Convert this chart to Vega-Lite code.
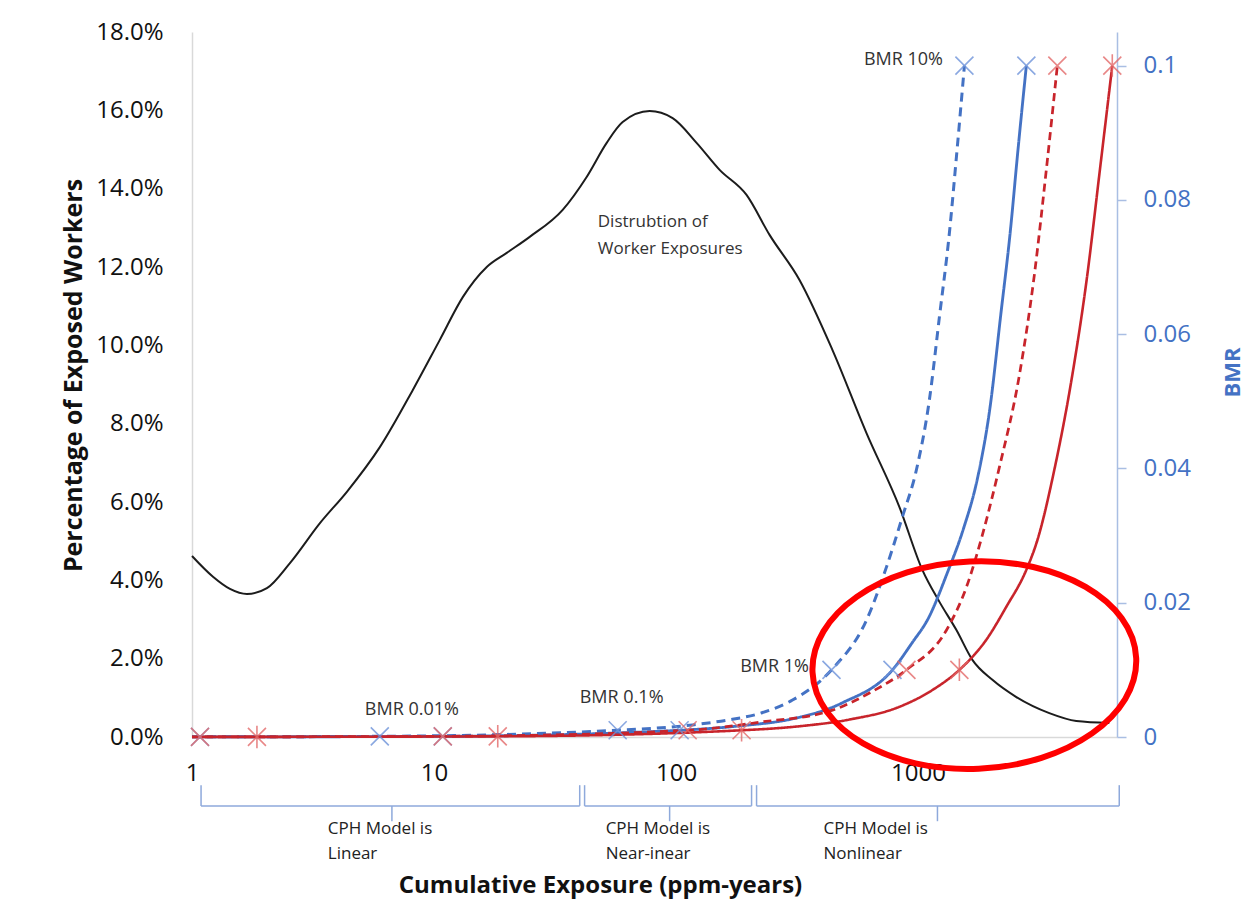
{
  "$schema": "https://vega.github.io/schema/vega-lite/v6.json",
  "width": 925,
  "height": 705,
  "autosize": {"type": "none"},
  "padding": {"left": 192, "top": 32, "right": 133, "bottom": 170},
  "background": "white",
  "config": {"view": {"stroke": null}, "font": "Open Sans", "axis": {"grid": false}},
  "datasets": {
    "distribution": [
      {"exposure": 1.0, "share": 0.0462},
      {"exposure": 1.221, "share": 0.0409},
      {"exposure": 1.435, "share": 0.0378},
      {"exposure": 1.687, "share": 0.0365},
      {"exposure": 2.04, "share": 0.038},
      {"exposure": 2.539, "share": 0.0444},
      {"exposure": 3.378, "share": 0.0546},
      {"exposure": 4.365, "share": 0.0626},
      {"exposure": 5.973, "share": 0.074},
      {"exposure": 8.175, "share": 0.0886},
      {"exposure": 10.57, "share": 0.1014},
      {"exposure": 13.15, "share": 0.1123},
      {"exposure": 16.52, "share": 0.12},
      {"exposure": 19.98, "share": 0.1236},
      {"exposure": 24.86, "share": 0.1277},
      {"exposure": 34.02, "share": 0.1346},
      {"exposure": 42.73, "share": 0.143},
      {"exposure": 51.7, "share": 0.1517},
      {"exposure": 60.19, "share": 0.157},
      {"exposure": 77.82, "share": 0.1598},
      {"exposure": 96.83, "share": 0.158},
      {"exposure": 121.6, "share": 0.1517},
      {"exposure": 151.4, "share": 0.1448},
      {"exposure": 195.6, "share": 0.1384},
      {"exposure": 243.5, "share": 0.1282},
      {"exposure": 323.8, "share": 0.1167},
      {"exposure": 443.2, "share": 0.0988},
      {"exposure": 612.4, "share": 0.0776},
      {"exposure": 837.9, "share": 0.0587},
      {"exposure": 1043, "share": 0.0426},
      {"exposure": 1226, "share": 0.0345},
      {"exposure": 1441, "share": 0.0273},
      {"exposure": 1677, "share": 0.0197},
      {"exposure": 2029, "share": 0.0146},
      {"exposure": 2549, "share": 0.0102},
      {"exposure": 3487, "share": 0.0061},
      {"exposure": 4508, "share": 0.0041},
      {"exposure": 6171, "share": 0.0036}
    ],
    "curves": [
      {"series": "Blue dashed", "exposure": 1, "bmr": 0.00002},
      {"series": "Blue dashed", "exposure": 5.97, "bmr": 0.0001},
      {"series": "Blue dashed", "exposure": 57.4, "bmr": 0.001},
      {"series": "Blue dashed", "exposure": 117.1, "bmr": 0.0018},
      {"series": "Blue dashed", "exposure": 161.8, "bmr": 0.0025},
      {"series": "Blue dashed", "exposure": 221.4, "bmr": 0.0035},
      {"series": "Blue dashed", "exposure": 302.9, "bmr": 0.0055},
      {"series": "Blue dashed", "exposure": 439, "bmr": 0.01},
      {"series": "Blue dashed", "exposure": 612.3, "bmr": 0.0174},
      {"series": "Blue dashed", "exposure": 740.4, "bmr": 0.0253},
      {"series": "Blue dashed", "exposure": 862, "bmr": 0.0328},
      {"series": "Blue dashed", "exposure": 984.9, "bmr": 0.0398},
      {"series": "Blue dashed", "exposure": 1114, "bmr": 0.0502},
      {"series": "Blue dashed", "exposure": 1226, "bmr": 0.0626},
      {"series": "Blue dashed", "exposure": 1348, "bmr": 0.0751},
      {"series": "Blue dashed", "exposure": 1441, "bmr": 0.0864},
      {"series": "Blue dashed", "exposure": 1555, "bmr": 0.1},
      {"series": "Blue solid", "exposure": 1, "bmr": 0.00001},
      {"series": "Blue solid", "exposure": 10.87, "bmr": 0.0001},
      {"series": "Blue solid", "exposure": 103.5, "bmr": 0.001},
      {"series": "Blue solid", "exposure": 188.4, "bmr": 0.0017},
      {"series": "Blue solid", "exposure": 302.9, "bmr": 0.0027},
      {"series": "Blue solid", "exposure": 487.5, "bmr": 0.0051},
      {"series": "Blue solid", "exposure": 784.3, "bmr": 0.01},
      {"series": "Blue solid", "exposure": 948.3, "bmr": 0.0141},
      {"series": "Blue solid", "exposure": 1100, "bmr": 0.0176},
      {"series": "Blue solid", "exposure": 1323, "bmr": 0.0245},
      {"series": "Blue solid", "exposure": 1540, "bmr": 0.031},
      {"series": "Blue solid", "exposure": 1760, "bmr": 0.0385},
      {"series": "Blue solid", "exposure": 1991, "bmr": 0.0495},
      {"series": "Blue solid", "exposure": 2191, "bmr": 0.0625},
      {"series": "Blue solid", "exposure": 2409, "bmr": 0.0755},
      {"series": "Blue solid", "exposure": 2575, "bmr": 0.0866},
      {"series": "Blue solid", "exposure": 2803, "bmr": 0.1},
      {"series": "Red dashed", "exposure": 1, "bmr": 0.00001},
      {"series": "Red dashed", "exposure": 10.87, "bmr": 0.0001},
      {"series": "Red dashed", "exposure": 111.7, "bmr": 0.001},
      {"series": "Red dashed", "exposure": 221.4, "bmr": 0.0022},
      {"series": "Red dashed", "exposure": 443.2, "bmr": 0.004},
      {"series": "Red dashed", "exposure": 648.1, "bmr": 0.0068},
      {"series": "Red dashed", "exposure": 895.6, "bmr": 0.01},
      {"series": "Red dashed", "exposure": 1310, "bmr": 0.0159},
      {"series": "Red dashed", "exposure": 1584, "bmr": 0.0223},
      {"series": "Red dashed", "exposure": 1845, "bmr": 0.0301},
      {"series": "Red dashed", "exposure": 2169, "bmr": 0.0402},
      {"series": "Red dashed", "exposure": 2623, "bmr": 0.0539},
      {"series": "Red dashed", "exposure": 3024, "bmr": 0.0688},
      {"series": "Red dashed", "exposure": 3390, "bmr": 0.0845},
      {"series": "Red dashed", "exposure": 3764, "bmr": 0.1},
      {"series": "Red solid", "exposure": 1, "bmr": 0.00001},
      {"series": "Red solid", "exposure": 18.34, "bmr": 0.0001},
      {"series": "Red solid", "exposure": 186.6, "bmr": 0.001},
      {"series": "Red solid", "exposure": 323.8, "bmr": 0.0016},
      {"series": "Red solid", "exposure": 521.1, "bmr": 0.0026},
      {"series": "Red solid", "exposure": 837.9, "bmr": 0.0045},
      {"series": "Red solid", "exposure": 1147, "bmr": 0.007},
      {"series": "Red solid", "exposure": 1482, "bmr": 0.01},
      {"series": "Red solid", "exposure": 1916, "bmr": 0.0145},
      {"series": "Red solid", "exposure": 2317, "bmr": 0.0194},
      {"series": "Red solid", "exposure": 2803, "bmr": 0.0249},
      {"series": "Red solid", "exposure": 3112, "bmr": 0.0293},
      {"series": "Red solid", "exposure": 3658, "bmr": 0.0398},
      {"series": "Red solid", "exposure": 4340, "bmr": 0.0539},
      {"series": "Red solid", "exposure": 5005, "bmr": 0.0688},
      {"series": "Red solid", "exposure": 5610, "bmr": 0.0837},
      {"series": "Red solid", "exposure": 6349, "bmr": 0.1}
    ],
    "markers": [
      {"series": "Blue dashed", "exposure": 5.97, "bmr": 0.0001},
      {"series": "Blue dashed", "exposure": 57.4, "bmr": 0.001},
      {"series": "Blue dashed", "exposure": 439, "bmr": 0.01},
      {"series": "Blue dashed", "exposure": 1555, "bmr": 0.1},
      {"series": "Blue solid", "exposure": 1.079, "bmr": 0.00001},
      {"series": "Blue solid", "exposure": 10.87, "bmr": 0.0001},
      {"series": "Blue solid", "exposure": 103.5, "bmr": 0.001},
      {"series": "Blue solid", "exposure": 784.3, "bmr": 0.01},
      {"series": "Blue solid", "exposure": 2803, "bmr": 0.1},
      {"series": "Red dashed", "exposure": 1.079, "bmr": 0.00001},
      {"series": "Red dashed", "exposure": 10.87, "bmr": 0.0001},
      {"series": "Red dashed", "exposure": 111.7, "bmr": 0.001},
      {"series": "Red dashed", "exposure": 895.6, "bmr": 0.01},
      {"series": "Red dashed", "exposure": 3764, "bmr": 0.1},
      {"series": "Red solid", "exposure": 1.855, "bmr": 0.00001},
      {"series": "Red solid", "exposure": 18.34, "bmr": 0.0001},
      {"series": "Red solid", "exposure": 186.6, "bmr": 0.001},
      {"series": "Red solid", "exposure": 1482, "bmr": 0.01},
      {"series": "Red solid", "exposure": 6349, "bmr": 0.1}
    ],
    "bmr_labels": [
      {"label": "BMR 10%", "exposure": 870.4, "bmr": 0.1008},
      {"label": "BMR 1%", "exposure": 255.4, "bmr": 0.0105},
      {"label": "BMR 0.1%", "exposure": 59.6, "bmr": 0.0058},
      {"label": "BMR 0.01%", "exposure": 8.1, "bmr": 0.004}
    ],
    "brackets": [
      {"range": "Linear", "x_start": 1.09, "x_end": 40.0, "center": 6.7, "text_x": 3.64, "text": "CPH Model is\nLinear"},
      {"range": "Near-linear", "x_start": 41.9, "x_end": 205.2, "center": 94.1, "text_x": 51.2, "text": "CPH Model is\nNear-inear"},
      {"range": "Nonlinear", "x_start": 215.2, "x_end": 6784, "center": 1203, "text_x": 406.9, "text": "CPH Model is\nNonlinear"}
    ],
    "notes": [
      {"text": "Distrubtion of\nWorker Exposures", "exposure": 47.5, "share": 0.1315}
    ],
    "highlight": [
      {"exposure": 1709, "bmr": 0.0107}
    ]
  },
  "layer": [
    {
      "layer": [
        {
          "data": {"name": "distribution"},
          "mark": {"type": "line", "interpolate": "monotone", "color": "#1c1c1c", "strokeWidth": 2},
          "encoding": {
            "x": {
              "field": "exposure", "type": "quantitative",
              "scale": {"type": "log", "domain": [1, 6640], "nice": false},
              "axis": {
                "title": "Cumulative Exposure (ppm-years)",
                "values": [1, 10, 100, 1000], "format": "d",
                "ticks": false, "tickSize": 0, "labelFlush": false,
                "domainColor": "#D9D9D9", "domainWidth": 1.5,
                "labelFontSize": 24, "labelColor": "#111111", "labelPadding": 24,
                "titleFontSize": 24, "titleFontWeight": "bold", "titleColor": "#111111",
                "titleX": 408, "titleY": 148, "titleAlign": "center", "titleBaseline": "middle"
              }
            },
            "y": {
              "field": "share", "type": "quantitative",
              "scale": {"domain": [0, 0.18], "nice": false, "zero": false},
              "axis": {
                "title": "Percentage of Exposed Workers",
                "values": [0, 0.02, 0.04, 0.06, 0.08, 0.1, 0.12, 0.14, 0.16, 0.18],
                "format": ".1%", "ticks": false, "tickSize": 0, "labelFlush": false,
                "labelPadding": 29, "domainColor": "#D9D9D9", "domainWidth": 1.5,
                "labelFontSize": 24, "labelColor": "#111111",
                "titleFontSize": 25, "titleFontWeight": "bold", "titleColor": "#111111",
                "titleAngle": -90, "titleX": -119, "titleY": 343, "titleAlign": "center", "titleBaseline": "middle"
              }
            }
          }
        },
        {
          "data": {"name": "notes"},
          "mark": {"type": "text", "align": "left", "baseline": "middle", "fontSize": 17, "color": "#333333", "lineBreak": "\n", "lineHeight": 27},
          "encoding": {
            "x": {"field": "exposure", "type": "quantitative"},
            "y": {"field": "share", "type": "quantitative"},
            "text": {"field": "text"}
          }
        },
        {
          "data": {"name": "brackets"},
          "mark": {"type": "rule", "color": "#8EA9DB", "strokeWidth": 1.5},
          "encoding": {
            "x": {"field": "x_start", "type": "quantitative"},
            "x2": {"field": "x_end"},
            "y": {"datum": -0.0176}
          }
        },
        {
          "data": {"name": "brackets"},
          "mark": {"type": "rule", "color": "#8EA9DB", "strokeWidth": 1.5},
          "encoding": {
            "x": {"field": "x_start", "type": "quantitative"},
            "y": {"datum": -0.0123},
            "y2": {"datum": -0.0176}
          }
        },
        {
          "data": {"name": "brackets"},
          "mark": {"type": "rule", "color": "#8EA9DB", "strokeWidth": 1.5},
          "encoding": {
            "x": {"field": "x_end", "type": "quantitative"},
            "y": {"datum": -0.0123},
            "y2": {"datum": -0.0176}
          }
        },
        {
          "data": {"name": "brackets"},
          "mark": {"type": "rule", "color": "#8EA9DB", "strokeWidth": 1.5},
          "encoding": {
            "x": {"field": "center", "type": "quantitative"},
            "y": {"datum": -0.0176},
            "y2": {"datum": -0.0215}
          }
        },
        {
          "data": {"name": "brackets"},
          "mark": {"type": "text", "align": "left", "baseline": "middle", "fontSize": 17, "color": "#222222", "lineBreak": "\n", "lineHeight": 25},
          "encoding": {
            "x": {"field": "text_x", "type": "quantitative"},
            "y": {"datum": -0.0236},
            "text": {"field": "text"}
          }
        }
      ]
    },
    {
      "layer": [
        {
          "data": {"name": "curves"},
          "mark": {"type": "line", "interpolate": "monotone"},
          "encoding": {
            "x": {"field": "exposure", "type": "quantitative", "scale": {"type": "log", "domain": [1, 6640], "nice": false}},
            "y": {
              "field": "bmr", "type": "quantitative",
              "scale": {"domain": [0, 0.105], "nice": false, "zero": false},
              "axis": {
                "orient": "right", "title": "BMR",
                "values": [0, 0.02, 0.04, 0.06, 0.08, 0.1], "format": "~g",
                "tickSize": 9, "tickColor": "#A9BEE3", "tickWidth": 1.5,
                "domainColor": "#A9BEE3", "domainWidth": 1.5, "labelFlush": false,
                "labelColor": "#4472C4", "labelFontSize": 24, "labelPadding": 17,
                "titleColor": "#4472C4", "titleFontSize": 22, "titleFontWeight": "bold",
                "titleAngle": -90, "titleX": 115, "titleY": 340, "titleAlign": "center", "titleBaseline": "middle"
              }
            },
            "detail": {"field": "series"},
            "color": {"field": "series", "type": "nominal", "legend": null,
              "scale": {"domain": ["Blue dashed", "Blue solid", "Red dashed", "Red solid"], "range": ["#4472C4", "#4472C4", "#C8242B", "#C8242B"]}},
            "strokeDash": {"field": "series", "type": "nominal", "legend": null,
              "scale": {"domain": ["Blue dashed", "Blue solid", "Red dashed", "Red solid"], "range": [[9, 6], [1, 0], [8, 5], [1, 0]]}},
            "strokeWidth": {"field": "series", "type": "nominal", "legend": null,
              "scale": {"domain": ["Blue dashed", "Blue solid", "Red dashed", "Red solid"], "range": [3, 2.6, 2, 1.5]}}
          }
        },
        {
          "data": {"name": "markers"},
          "mark": {"type": "point", "filled": false, "size": 324, "strokeWidth": 1.6, "opacity": 0.8},
          "encoding": {
            "x": {"field": "exposure", "type": "quantitative"},
            "y": {"field": "bmr", "type": "quantitative"},
            "stroke": {"field": "series", "type": "nominal", "legend": null,
              "scale": {"domain": ["Blue dashed", "Blue solid", "Red dashed", "Red solid"], "range": ["#6E93DA", "#6E93DA", "#E46A6A", "#E46A6A"]}},
            "shape": {"field": "series", "type": "nominal", "legend": null,
              "scale": {"domain": ["Blue dashed", "Blue solid", "Red dashed", "Red solid"],
                "range": ["M-1,-1L1,1M-1,1L1,-1", "M-1,-1L1,1M-1,1L1,-1", "M-1,-1L1,1M-1,1L1,-1", "M-1,-1L1,1M-1,1L1,-1M0,-1.25L0,1.25"]}}
          }
        },
        {
          "data": {"name": "bmr_labels"},
          "mark": {"type": "text", "align": "center", "baseline": "middle", "fontSize": 18, "color": "#333333"},
          "encoding": {
            "x": {"field": "exposure", "type": "quantitative"},
            "y": {"field": "bmr", "type": "quantitative"},
            "text": {"field": "label"}
          }
        },
        {
          "data": {"name": "highlight"},
          "mark": {"type": "point", "filled": false, "shape": "M-1,0A1,0.64 0 1,1 1,0A1,0.64 0 1,1 -1,0Z", "size": 104976, "stroke": "#FF0000", "strokeWidth": 6, "opacity": 1, "angle": -2.5},
          "encoding": {
            "x": {"field": "exposure", "type": "quantitative"},
            "y": {"field": "bmr", "type": "quantitative"}
          }
        }
      ]
    }
  ],
  "resolve": {"scale": {"y": "independent"}}
}
